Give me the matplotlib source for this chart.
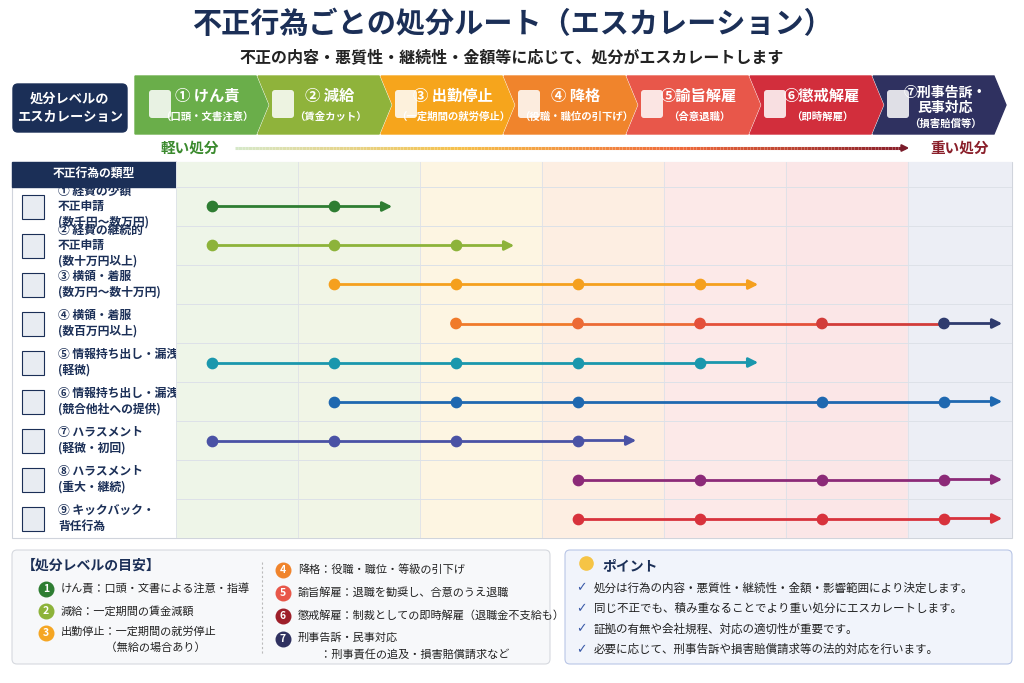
import matplotlib.pyplot as plt
import numpy as np
from matplotlib.patches import Polygon, FancyBboxPatch, Rectangle
from matplotlib.collections import LineCollection
from matplotlib.colors import LinearSegmentedColormap

plt.rcParams['font.family'] = ['Noto Sans CJK JP', 'DejaVu Sans']

# data
levels = ["① けん責", "② 減給", "③ 出勤停止", "④ 降格", "⑤諭旨解雇", "⑥懲戒解雇", "⑦刑事告訴・\n民事対応"]
level_subs = ["（口頭・文書注意）", "（賃金カット）", "（一定期間の就労停止）", "（役職・職位の引下げ）",
              "（合意退職）", "（即時解雇）", "（損害賠償等）"]
level_colors = ["#6aae4a", "#8fb33b", "#f6a51c", "#f0842c", "#e8574a", "#d22e3c", "#2f3160"]
col_tints = ["#eef5e8", "#f1f5e6", "#fdf5e2", "#fdeee2", "#fce9e8", "#fbe6e7", "#eceef5"]

acts = ["① 経費の少額\n不正申請\n(数千円〜数万円)", "② 経費の継続的\n不正申請\n(数十万円以上)",
        "③ 横領・着服\n(数万円〜数十万円)", "④ 横領・着服\n(数百万円以上)",
        "⑤ 情報持ち出し・漏洩\n(軽微)", "⑥ 情報持ち出し・漏洩\n(競合他社への提供)",
        "⑦ ハラスメント\n(軽微・初回)", "⑧ ハラスメント\n(重大・継続)", "⑨ キックバック・\n背任行為"]
route_levels = [[1, 2], [1, 2, 3], [2, 3, 4, 5], [3, 4, 5, 6, 7], [1, 2, 3, 4, 5],
                [2, 3, 4, 6, 7], [1, 2, 3, 4], [4, 5, 6, 7], [4, 5, 6, 7]]
route_end = [2.5, 3.5, 5.5, 7.5, 5.5, 7.5, 4.5, 7.5, 7.5]
route_colors = ["#2e7d32", "#8db33a", "#f5a01e", None, "#1a97ad", "#1f68b0", "#4a52a5", "#8c2a78", "#d8323c"]
row4_colors = ["#f07a2a", "#ec6a35", "#e4503a", "#d23c3a", "#2f3b6e"]

guide_left = [("1", "#2e7d32", "けん責：口頭・文書による注意・指導"),
              ("2", "#8db33a", "減給：一定期間の賃金減額"),
              ("3", "#f5a623", "出勤停止：一定期間の就労停止\n　　　　（無給の場合あり）")]
guide_right = [("4", "#f0842c", "降格：役職・職位・等級の引下げ"),
               ("5", "#e8574a", "諭旨解雇：退職を勧奨し、合意のうえ退職"),
               ("6", "#9e1f2a", "懲戒解雇：制裁としての即時解雇（退職金不支給も）"),
               ("7", "#2f3160", "刑事告訴・民事対応\n　　：刑事責任の追及・損害賠償請求など")]
points = ["処分は行為の内容・悪質性・継続性・金額・影響範囲により決定します。",
          "同じ不正でも、積み重なることでより重い処分にエスカレートします。",
          "証拠の有無や会社規程、対応の適切性が重要です。",
          "必要に応じて、刑事告訴や損害賠償請求等の法的対応を行います。"]

navy = "#1b2f57"
fig = plt.figure(figsize=(10.24, 6.83), dpi=100)
bg = fig.add_axes([0, 0, 1, 1])
bg.set_xlim(0, 1024)
bg.set_ylim(683, 0)
bg.axis("off")

bg.text(512, 24, "不正行為ごとの処分ルート（エスカレーション）", ha="center", va="center",
        fontsize=21, fontweight="bold", color=navy)
bg.text(512, 57, "不正の内容・悪質性・継続性・金額等に応じて、処分がエスカレートします",
        ha="center", va="center", fontsize=11.5, fontweight="bold", color="#222")

# header chevrons
bg.add_patch(FancyBboxPatch((13, 84), 114, 48, boxstyle="round,pad=0,rounding_size=5", color=navy))
bg.text(70, 108, "処分レベルの\nエスカレーション", ha="center", va="center", color="white",
        fontsize=9.5, fontweight="bold", linespacing=1.4)
w, tip = 123, 12
for i, (lab, sub, c) in enumerate(zip(levels, level_subs, level_colors)):
    x0 = 135 + i * w
    x1 = x0 + w - 2
    pts = [(x0, 76), (x1, 76), (x1 + tip, 105), (x1, 134), (x0, 134)]
    if i > 0:
        pts.append((x0 + tip, 105))
    bg.add_patch(Polygon(pts, closed=True, color=c))
    cx = x0 + 72
    if i == 6:
        bg.text(cx, 100, lab, ha="center", va="center", color="white", fontsize=10, fontweight="bold",
                linespacing=1.1)
        bg.text(cx, 124, sub, ha="center", va="center", color="white", fontsize=7.5, fontweight="bold")
    else:
        bg.text(cx, 96, lab, ha="center", va="center", color="white", fontsize=11, fontweight="bold")
        bg.text(cx, 117, sub, ha="center", va="center", color="white", fontsize=7.5, fontweight="bold")
    bg.add_patch(FancyBboxPatch((x0 + 14, 90), 22, 28, boxstyle="round,pad=0,rounding_size=3",
                                fc="white", ec="none", alpha=0.85))

# light -> heavy gradient
bg.text(190, 148, "軽い処分", ha="center", va="center", color="#3b8a2e", fontsize=10.5, fontweight="bold")
bg.text(960, 148, "重い処分", ha="center", va="center", color="#8a1f2a", fontsize=10.5, fontweight="bold")
xs = np.linspace(235, 905, 200)
segs = [[(xs[k], 148), (xs[k + 1], 148)] for k in range(len(xs) - 1)]
cmap = LinearSegmentedColormap.from_list("g", ["#d6e8c8", "#f6c04a", "#ef6a3a", "#8a1f2a"])
bg.add_collection(LineCollection(segs, colors=cmap(np.linspace(0, 1, len(segs))), linewidth=2.2))
bg.annotate("", xy=(912, 148), xytext=(900, 148),
            arrowprops=dict(arrowstyle="-|>", color="#7a1c2a", lw=1.5))

# table frame and left column
bg.add_patch(Rectangle((12, 162), 1000, 376, fc="none", ec="#d0d4dc", lw=0.8))
bg.add_patch(Rectangle((12, 162), 164, 25, color=navy))
bg.text(94, 174.5, "不正行為の類型", ha="center", va="center", color="white", fontsize=8.5, fontweight="bold")
row_h = (538 - 187) / 9
for r, a in enumerate(acts):
    yc = 187 + row_h * (r + 0.5)
    bg.add_patch(Rectangle((22, yc - 12), 22, 24, fc="#e8ecf2", ec=navy, lw=0.8))
    bg.text(58, yc, a, ha="left", va="center", fontsize=8.5, fontweight="bold", color=navy,
            linespacing=1.25)

# route grid
gx = fig.add_axes([176 / 1024, (683 - 538) / 683, 836 / 1024, (538 - 162) / 683])
lo, hi = (176 - 212) / 122 + 1, (1012 - 212) / 122 + 1
gx.set_xlim(lo, hi)
gx.set_ylim(8.5, -0.5 - 25 / row_h)
gx.axis("off")
for i, t in enumerate(col_tints):
    gx.axvspan(lo + i, lo + i + 1, color=t, zorder=0)
    gx.axvline(lo + i, color="#dde1e8", lw=0.6, zorder=1)
gx.axhline(-0.5, color="#dde1e8", lw=0.7, zorder=1)
for r in range(9):
    gx.axhline(r + 0.5, color="#dde1e8", lw=0.7, zorder=1)

for r, (lv, end, c) in enumerate(zip(route_levels, route_end, route_colors)):
    if c is None:
        cols = row4_colors
        for k in range(len(lv) - 1):
            gx.plot([lv[k], lv[k + 1]], [r, r], color=cols[k], lw=2, zorder=2)
        gx.annotate("", xy=(end, r), xytext=(lv[-1], r),
                    arrowprops=dict(arrowstyle="-|>", color=cols[-1], lw=2, mutation_scale=14))
        gx.scatter(lv, [r] * len(lv), s=55, color=cols, zorder=3)
    else:
        gx.plot([lv[0], lv[-1]], [r, r], color=c, lw=2, zorder=2)
        gx.annotate("", xy=(end, r), xytext=(lv[-1], r),
                    arrowprops=dict(arrowstyle="-|>", color=c, lw=2, mutation_scale=14))
        gx.scatter(lv, [r] * len(lv), s=55, color=c, zorder=3)

# bottom panels
bg.add_patch(FancyBboxPatch((12, 550), 538, 114, boxstyle="round,pad=0,rounding_size=5",
                            fc="#f7f8fa", ec="#d6d9df", lw=0.8))
bg.text(22, 566, "【処分レベルの目安】", ha="left", va="center", fontsize=10, fontweight="bold", color=navy)
bg.plot([262, 262], [562, 655], ls=(0, (2, 2)), color="#bbb", lw=0.8)


def guide_item(x, y, n, c, t):
    bg.scatter([x], [y], s=110, color=c, zorder=3)
    bg.text(x, y, n, ha="center", va="center", color="white", fontsize=7.5, fontweight="bold", zorder=4)
    multi = "\n" in t
    bg.text(x + 15, y - 7 if multi else y, t, ha="left", va="top" if multi else "center",
            fontsize=8, color="#222", linespacing=1.7)


for k, (n, c, t) in enumerate(guide_left):
    guide_item(46, 589 + k * 22, n, c, t)
for k, (n, c, t) in enumerate(guide_right):
    guide_item(283, 570 + k * 23, n, c, t)

bg.add_patch(FancyBboxPatch((565, 550), 447, 114, boxstyle="round,pad=0,rounding_size=5",
                            fc="#f1f4fb", ec="#b9c6e6", lw=0.8))
bg.scatter([586], [563], s=90, color="#f6c445", zorder=3)
bg.text(602, 566, "ポイント", ha="left", va="center", fontsize=10, fontweight="bold", color=navy)
for k, t in enumerate(points):
    y = 588 + k * 20.5
    bg.text(581, y, "✓", ha="center", va="center", fontsize=9, color="#3a5aa8", family="DejaVu Sans")
    bg.text(594, y, t, ha="left", va="center", fontsize=8.3, color="#222")

fig.savefig("out.png", dpi=100)
